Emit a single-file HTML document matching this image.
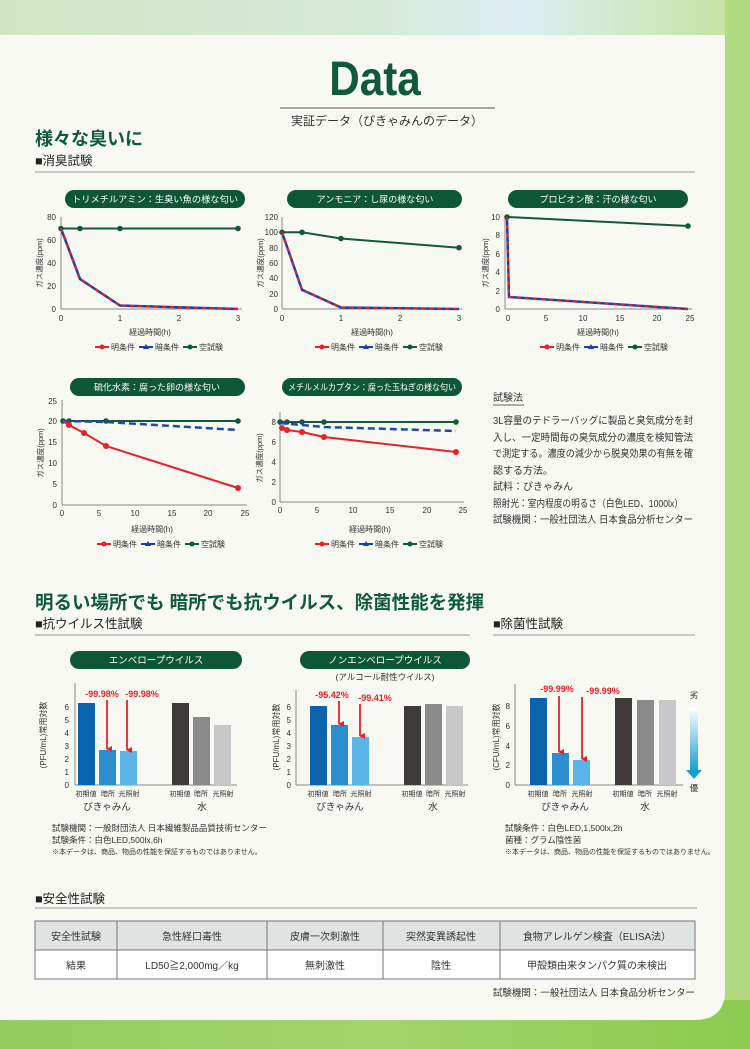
<!DOCTYPE html>
<html><head><meta charset="utf-8"><style>
html,body{margin:0;padding:0;width:750px;height:1049px;overflow:hidden;}
svg{display:block;font-family:"Liberation Sans","Noto Sans CJK JP",sans-serif;}
</style></head><body>
<svg width="750" height="1049" viewBox="0 0 750 1049" xmlns="http://www.w3.org/2000/svg">
<defs>
<linearGradient id="top" x1="0" x2="1" y1="0" y2="0"><stop offset="0" stop-color="#cfe5c2"/><stop offset="0.5" stop-color="#d6ead9"/><stop offset="0.7" stop-color="#dcedf2"/><stop offset="1" stop-color="#c4e29a"/></linearGradient>
<linearGradient id="bot" x1="0" x2="1"><stop offset="0" stop-color="#93cc5e"/><stop offset="0.5" stop-color="#a3d46c"/><stop offset="1" stop-color="#8ccb4f"/></linearGradient>
<linearGradient id="arr" x1="0" x2="0" y1="0" y2="1"><stop offset="0" stop-color="#ffffff"/><stop offset="1" stop-color="#1aa0d0"/></linearGradient>
<marker id="ah" markerWidth="6" markerHeight="6" refX="3" refY="5" orient="auto" markerUnits="userSpaceOnUse"><path d="M0,0 L6,0 L3,6 z" fill="#e8202a"/></marker>
</defs>
<rect width="750" height="1049" fill="url(#top)"/>
<rect x="725" y="0" width="25" height="1049" fill="#b3dc82"/>
<rect x="0" y="1000" width="750" height="49" fill="url(#bot)"/>
<path d="M0,35 H725 V990 Q725,1020 695,1020 H0 Z" fill="#f7f9f2"/>

<text x="375" y="95" text-anchor="middle" font-size="48" font-weight="bold" fill="#0f5a3a" transform="translate(375 0) scale(0.88 1) translate(-375 0)">Data</text>
<line x1="280" y1="108" x2="495" y2="108" stroke="#555" stroke-width="1"/>
<text x="387" y="125" text-anchor="middle" font-size="12" fill="#333">実証データ（ぴきゃみんのデータ）</text>

<text x="35" y="145" font-size="18" font-weight="bold" fill="#0f5a3a">様々な臭いに</text>
<text x="35" y="165" font-size="12.5" fill="#222">■消臭試験</text>
<line x1="35" y1="172" x2="695" y2="172" stroke="#999" stroke-width="1"/>

<g font-size="8" fill="#333">
<rect x="65" y="190" width="180" height="18" rx="9" fill="#0e5638"/>
<text x="155" y="202.5" text-anchor="middle" font-size="9" fill="#fff" textLength="166" lengthAdjust="spacingAndGlyphs">トリメチルアミン：生臭い魚の様な匂い</text>
<line x1="61" y1="217" x2="61" y2="309" stroke="#888"/><line x1="61" y1="309" x2="242" y2="309" stroke="#888"/>
<g text-anchor="end"><text x="56" y="220">80</text><text x="56" y="243">60</text><text x="56" y="266">40</text><text x="56" y="289">20</text><text x="56" y="312">0</text></g>
<g text-anchor="middle"><text x="61" y="321">0</text><text x="120" y="321">1</text><text x="179" y="321">2</text><text x="238" y="321">3</text>
<text x="150" y="335">経過時間(h)</text></g>
<text transform="translate(42 263) rotate(-90)" text-anchor="middle" font-size="7.5">ガス濃度(ppm)</text>
<polyline points="61,228.5 80,228.5 120,228.5 238,228.5" fill="none" stroke="#0f5a3a" stroke-width="2"/>
<g fill="#0f5a3a"><circle cx="61" cy="228.5" r="2.8"/><circle cx="80" cy="228.5" r="2.8"/><circle cx="120" cy="228.5" r="2.8"/><circle cx="238" cy="228.5" r="2.8"/></g>
<polyline points="61,228.5 80,279 120,305.5 238,309" fill="none" stroke="#1f3fa0" stroke-width="2.5"/>
<polyline points="61,228.5 80,279 120,305.5 238,309" fill="none" stroke="#e8202a" stroke-width="2" stroke-dasharray="4 4"/>

<rect x="287" y="190" width="175" height="18" rx="9" fill="#0e5638"/>
<text x="375" y="202.5" text-anchor="middle" font-size="9" fill="#fff">アンモニア：し尿の様な匂い</text>
<line x1="282" y1="217" x2="282" y2="309" stroke="#888"/><line x1="282" y1="309" x2="462" y2="309" stroke="#888"/>
<g text-anchor="end"><text x="278" y="220">120</text><text x="278" y="235">100</text><text x="278" y="251">80</text><text x="278" y="266">60</text><text x="278" y="281">40</text><text x="278" y="297">20</text><text x="278" y="312">0</text></g>
<g text-anchor="middle"><text x="282" y="321">0</text><text x="341" y="321">1</text><text x="400" y="321">2</text><text x="459" y="321">3</text>
<text x="372" y="335">経過時間(h)</text></g>
<text transform="translate(263 263) rotate(-90)" text-anchor="middle" font-size="7.5">ガス濃度(ppm)</text>
<polyline points="282,232.3 302,232.3 341,238.5 459,247.7" fill="none" stroke="#0f5a3a" stroke-width="2"/>
<g fill="#0f5a3a"><circle cx="282" cy="232.3" r="2.8"/><circle cx="302" cy="232.3" r="2.8"/><circle cx="341" cy="238.5" r="2.8"/><circle cx="459" cy="247.7" r="2.8"/></g>
<polyline points="282,232.3 302,289.8 341,307.5 459,309" fill="none" stroke="#1f3fa0" stroke-width="2.5"/>
<polyline points="282,232.3 302,289.8 341,307.5 459,309" fill="none" stroke="#e8202a" stroke-width="2" stroke-dasharray="4 4"/>

<rect x="508" y="190" width="180" height="18" rx="9" fill="#0e5638"/>
<text x="598" y="202.5" text-anchor="middle" font-size="9" fill="#fff">プロピオン酸：汗の様な匂い</text>
<line x1="505" y1="217" x2="505" y2="309" stroke="#888"/><line x1="505" y1="309" x2="692" y2="309" stroke="#888"/>
<g text-anchor="end"><text x="500" y="220">10</text><text x="500" y="238">8</text><text x="500" y="257">6</text><text x="500" y="275">4</text><text x="500" y="294">2</text><text x="500" y="312">0</text></g>
<g text-anchor="middle"><text x="508" y="321">0</text><text x="546" y="321">5</text><text x="583" y="321">10</text><text x="620" y="321">15</text><text x="657" y="321">20</text><text x="690" y="321">25</text>
<text x="598" y="335">経過時間(h)</text></g>
<text transform="translate(488 263) rotate(-90)" text-anchor="middle" font-size="7.5">ガス濃度(ppm)</text>
<polyline points="507,217 688,226" fill="none" stroke="#0f5a3a" stroke-width="2"/>
<g fill="#0f5a3a"><circle cx="507" cy="217" r="2.8"/><circle cx="688" cy="226" r="2.8"/></g>
<polyline points="507,217 509,297 688,309" fill="none" stroke="#1f3fa0" stroke-width="2.5"/>
<polyline points="507,217 509,297 688,309" fill="none" stroke="#e8202a" stroke-width="2" stroke-dasharray="4 4"/>

<rect x="70" y="378" width="175" height="18" rx="9" fill="#0e5638"/>
<text x="157" y="390.5" text-anchor="middle" font-size="9" fill="#fff">硫化水素：腐った卵の様な匂い</text>
<line x1="62" y1="400" x2="62" y2="505" stroke="#888"/><line x1="62" y1="505" x2="247" y2="505" stroke="#888"/>
<g text-anchor="end"><text x="57" y="404">25</text><text x="57" y="424">20</text><text x="57" y="445">15</text><text x="57" y="466">10</text><text x="57" y="487">5</text><text x="57" y="508">0</text></g>
<g text-anchor="middle"><text x="62" y="516">0</text><text x="99" y="516">5</text><text x="135" y="516">10</text><text x="172" y="516">15</text><text x="208" y="516">20</text><text x="245" y="516">25</text>
<text x="152" y="532">経過時間(h)</text></g>
<text transform="translate(43 453) rotate(-90)" text-anchor="middle" font-size="7.5">ガス濃度(ppm)</text>
<polyline points="63,421 69,421 84,421 106,421 238,421" fill="none" stroke="#0f5a3a" stroke-width="2"/>
<g fill="#0f5a3a"><circle cx="63" cy="421" r="2.8"/><circle cx="69" cy="421" r="2.8"/><circle cx="106" cy="421" r="2.8"/><circle cx="238" cy="421" r="2.8"/></g>
<polyline points="63,421 106,422 238,430" fill="none" stroke="#1f4aa8" stroke-width="2.5" stroke-dasharray="7 4"/>
<polyline points="63,421 69,425 84,433 106,446 238,488" fill="none" stroke="#e8202a" stroke-width="2"/>
<g fill="#e8202a"><circle cx="69" cy="425" r="3"/><circle cx="84" cy="433" r="3"/><circle cx="106" cy="446" r="3"/><circle cx="238" cy="488" r="3"/></g>

<rect x="282" y="378" width="180" height="18" rx="9" fill="#0e5638"/>
<text x="372" y="390.5" text-anchor="middle" font-size="9" fill="#fff" textLength="168" lengthAdjust="spacingAndGlyphs">メチルメルカプタン：腐った玉ねぎの様な匂い</text>
<line x1="280" y1="412" x2="280" y2="502" stroke="#888"/><line x1="280" y1="502" x2="464" y2="502" stroke="#888"/>
<g text-anchor="end"><text x="276" y="425">8</text><text x="276" y="445">6</text><text x="276" y="465">4</text><text x="276" y="485">2</text><text x="276" y="505">0</text></g>
<g text-anchor="middle"><text x="280" y="513">0</text><text x="317" y="513">5</text><text x="353" y="513">10</text><text x="390" y="513">15</text><text x="427" y="513">20</text><text x="463" y="513">25</text>
<text x="370" y="532">経過時間(h)</text></g>
<text transform="translate(262 458) rotate(-90)" text-anchor="middle" font-size="7.5">ガス濃度(ppm)</text>
<polyline points="280,422 288,422 302,422 324,422 456,422" fill="none" stroke="#0f5a3a" stroke-width="2"/>
<g fill="#0f5a3a"><circle cx="280" cy="422" r="2.8"/><circle cx="287" cy="422" r="2.8"/><circle cx="302" cy="422" r="2.8"/><circle cx="324" cy="422" r="2.8"/></g>
<polyline points="280,423 302,425 324,427 456,431" fill="none" stroke="#1f4aa8" stroke-width="2.5" stroke-dasharray="7 4"/>
<polyline points="282,428 287,430 302,432 324,437 456,452" fill="none" stroke="#e8202a" stroke-width="2"/>
<g fill="#e8202a"><circle cx="282" cy="428" r="3"/><circle cx="287" cy="430" r="3"/><circle cx="302" cy="432" r="3"/><circle cx="324" cy="437" r="3"/><circle cx="456" cy="452" r="3"/></g>
<circle cx="456" cy="422" r="2.8" fill="#0f5a3a"/>
</g>

<g font-size="8" fill="#333">
<g transform="translate(95 350)"><line x1="0" y1="-3" x2="14" y2="-3" stroke="#e8202a" stroke-width="2"/><circle cx="7" cy="-3" r="2.5" fill="#e8202a"/><text x="16" y="0">明条件</text>
<line x1="44" y1="-3" x2="58" y2="-3" stroke="#1f3fa0" stroke-width="2"/><path d="M51,-6 L54,-1 L48,-1Z" fill="#1f3fa0"/><text x="60" y="0">暗条件</text>
<line x1="88" y1="-3" x2="102" y2="-3" stroke="#0f5a3a" stroke-width="2"/><circle cx="95" cy="-3" r="2.5" fill="#0f5a3a"/><text x="104" y="0">空試験</text></g>
<g transform="translate(315 350)"><line x1="0" y1="-3" x2="14" y2="-3" stroke="#e8202a" stroke-width="2"/><circle cx="7" cy="-3" r="2.5" fill="#e8202a"/><text x="16" y="0">明条件</text>
<line x1="44" y1="-3" x2="58" y2="-3" stroke="#1f3fa0" stroke-width="2"/><path d="M51,-6 L54,-1 L48,-1Z" fill="#1f3fa0"/><text x="60" y="0">暗条件</text>
<line x1="88" y1="-3" x2="102" y2="-3" stroke="#0f5a3a" stroke-width="2"/><circle cx="95" cy="-3" r="2.5" fill="#0f5a3a"/><text x="104" y="0">空試験</text></g>
<g transform="translate(540 350)"><line x1="0" y1="-3" x2="14" y2="-3" stroke="#e8202a" stroke-width="2"/><circle cx="7" cy="-3" r="2.5" fill="#e8202a"/><text x="16" y="0">明条件</text>
<line x1="44" y1="-3" x2="58" y2="-3" stroke="#1f3fa0" stroke-width="2"/><path d="M51,-6 L54,-1 L48,-1Z" fill="#1f3fa0"/><text x="60" y="0">暗条件</text>
<line x1="88" y1="-3" x2="102" y2="-3" stroke="#0f5a3a" stroke-width="2"/><circle cx="95" cy="-3" r="2.5" fill="#0f5a3a"/><text x="104" y="0">空試験</text></g>
<g transform="translate(97 547)"><line x1="0" y1="-3" x2="14" y2="-3" stroke="#e8202a" stroke-width="2"/><circle cx="7" cy="-3" r="2.5" fill="#e8202a"/><text x="16" y="0">明条件</text>
<line x1="44" y1="-3" x2="58" y2="-3" stroke="#1f3fa0" stroke-width="2"/><path d="M51,-6 L54,-1 L48,-1Z" fill="#1f3fa0"/><text x="60" y="0">暗条件</text>
<line x1="88" y1="-3" x2="102" y2="-3" stroke="#0f5a3a" stroke-width="2"/><circle cx="95" cy="-3" r="2.5" fill="#0f5a3a"/><text x="104" y="0">空試験</text></g>
<g transform="translate(315 547)"><line x1="0" y1="-3" x2="14" y2="-3" stroke="#e8202a" stroke-width="2"/><circle cx="7" cy="-3" r="2.5" fill="#e8202a"/><text x="16" y="0">明条件</text>
<line x1="44" y1="-3" x2="58" y2="-3" stroke="#1f3fa0" stroke-width="2"/><path d="M51,-6 L54,-1 L48,-1Z" fill="#1f3fa0"/><text x="60" y="0">暗条件</text>
<line x1="88" y1="-3" x2="102" y2="-3" stroke="#0f5a3a" stroke-width="2"/><circle cx="95" cy="-3" r="2.5" fill="#0f5a3a"/><text x="104" y="0">空試験</text></g>
</g>

<g font-size="10" fill="#333">
<text x="493" y="401">試験法</text><line x1="493" y1="405" x2="524" y2="405" stroke="#333" stroke-width="0.8"/>
<text x="493" y="424" textLength="200" lengthAdjust="spacingAndGlyphs">3L容量のテドラーバッグに製品と臭気成分を封</text>
<text x="493" y="441" textLength="200" lengthAdjust="spacingAndGlyphs">入し、一定時間毎の臭気成分の濃度を検知管法</text>
<text x="493" y="457" textLength="200" lengthAdjust="spacingAndGlyphs">で測定する。濃度の減少から脱臭効果の有無を確</text>
<text x="493" y="474">認する方法。</text>
<text x="493" y="490">試料：ぴきゃみん</text>
<text x="493" y="507" textLength="190" lengthAdjust="spacingAndGlyphs">照射光：室内程度の明るさ（白色LED、1000lx）</text>
<text x="493" y="523" textLength="200" lengthAdjust="spacingAndGlyphs">試験機関：一般社団法人 日本食品分析センター</text>
</g>

<text x="35" y="609" font-size="18.5" font-weight="bold" fill="#0f5a3a">明るい場所でも 暗所でも抗ウイルス、除菌性能を発揮</text>
<text x="35" y="628" font-size="12.5" fill="#222">■抗ウイルス性試験</text>
<line x1="35" y1="635" x2="470" y2="635" stroke="#999"/>
<text x="493" y="628" font-size="12.5" fill="#222">■除菌性試験</text>
<line x1="493" y1="635" x2="695" y2="635" stroke="#999"/>

<g font-size="8" fill="#333">
<rect x="70" y="651" width="172" height="18" rx="9" fill="#0e5638"/>
<text x="156" y="663.5" text-anchor="middle" font-size="9.5" fill="#fff">エンベロープウイルス</text>
<line x1="75" y1="683" x2="75" y2="785" stroke="#888"/><line x1="75" y1="785" x2="237" y2="785" stroke="#888"/>
<g text-anchor="end"><text x="69" y="788">0</text><text x="69" y="775">1</text><text x="69" y="762">2</text><text x="69" y="749">3</text><text x="69" y="736">4</text><text x="69" y="723">5</text><text x="69" y="710">6</text></g>
<text transform="translate(46 735) rotate(-90)" text-anchor="middle" font-size="8">(PFU/mL)常用対数</text>
<rect x="78" y="703" width="17" height="82" fill="#0b62ad"/><rect x="99" y="750" width="17" height="35" fill="#2a8ed0"/><rect x="120" y="751" width="17" height="34" fill="#5ab4e8"/>
<rect x="172" y="703" width="17" height="82" fill="#3e3a3a"/><rect x="193" y="717" width="17" height="68" fill="#8a8a8a"/><rect x="214" y="725" width="17" height="60" fill="#c8c8c8"/>
<g text-anchor="middle" font-size="7"><text x="86" y="796">初期値</text><text x="108" y="796">暗所</text><text x="129" y="796">光照射</text><text x="180" y="796">初期値</text><text x="201" y="796">暗所</text><text x="223" y="796">光照射</text></g>
<g text-anchor="middle" font-size="9.5"><text x="107" y="810">ぴきゃみん</text><text x="202" y="810">水</text></g>
<g fill="#e8202a" font-size="9" font-weight="bold" text-anchor="middle"><text x="102" y="697">-99.98%</text><text x="142" y="697">-99.98%</text></g>
<line x1="107" y1="700" x2="107" y2="749" stroke="#e8202a" stroke-width="1.8" marker-end="url(#ah)"/>
<line x1="127" y1="700" x2="127" y2="750" stroke="#e8202a" stroke-width="1.8" marker-end="url(#ah)"/>

<rect x="300" y="651" width="170" height="18" rx="9" fill="#0e5638"/>
<text x="385" y="663.5" text-anchor="middle" font-size="9.5" fill="#fff">ノンエンベロープウイルス</text>
<text x="385" y="680" text-anchor="middle" font-size="8.5">(アルコール耐性ウイルス)</text>
<line x1="296" y1="690" x2="296" y2="785" stroke="#888"/><line x1="296" y1="785" x2="468" y2="785" stroke="#888"/>
<g text-anchor="end"><text x="291" y="788">0</text><text x="291" y="775">1</text><text x="291" y="762">2</text><text x="291" y="749">3</text><text x="291" y="736">4</text><text x="291" y="723">5</text><text x="291" y="710">6</text></g>
<text transform="translate(279 737) rotate(-90)" text-anchor="middle" font-size="8">(PFU/mL)常用対数</text>
<rect x="310" y="706" width="17" height="79" fill="#0b62ad"/><rect x="331" y="725" width="17" height="60" fill="#2a8ed0"/><rect x="352" y="737" width="17" height="48" fill="#5ab4e8"/>
<rect x="404" y="706" width="17" height="79" fill="#3e3a3a"/><rect x="425" y="704" width="17" height="81" fill="#8a8a8a"/><rect x="446" y="706" width="17" height="79" fill="#c8c8c8"/>
<g text-anchor="middle" font-size="7"><text x="318" y="796">初期値</text><text x="340" y="796">暗所</text><text x="361" y="796">光照射</text><text x="412" y="796">初期値</text><text x="433" y="796">暗所</text><text x="455" y="796">光照射</text></g>
<g text-anchor="middle" font-size="9.5"><text x="340" y="810">ぴきゃみん</text><text x="433" y="810">水</text></g>
<g fill="#e8202a" font-size="9" font-weight="bold" text-anchor="middle"><text x="332" y="698">-95.42%</text><text x="375" y="701">-99.41%</text></g>
<line x1="339" y1="701" x2="339" y2="724" stroke="#e8202a" stroke-width="1.8" marker-end="url(#ah)"/>
<line x1="360" y1="704" x2="360" y2="736" stroke="#e8202a" stroke-width="1.8" marker-end="url(#ah)"/>

<line x1="515" y1="684" x2="515" y2="785" stroke="#888"/><line x1="515" y1="785" x2="683" y2="785" stroke="#888"/>
<g text-anchor="end"><text x="510" y="788">0</text><text x="510" y="768">2</text><text x="510" y="749">4</text><text x="510" y="729">6</text><text x="510" y="709">8</text></g>
<text transform="translate(499 737) rotate(-90)" text-anchor="middle" font-size="8">(CFU/mL)常用対数</text>
<rect x="530" y="698" width="17" height="87" fill="#0b62ad"/><rect x="552" y="753" width="17" height="32" fill="#2a8ed0"/><rect x="573" y="760" width="17" height="25" fill="#5ab4e8"/>
<rect x="615" y="698" width="17" height="87" fill="#3e3a3a"/><rect x="637" y="700" width="17" height="85" fill="#8a8a8a"/><rect x="659" y="700" width="17" height="85" fill="#c8c8c8"/>
<g text-anchor="middle" font-size="7"><text x="538" y="796">初期値</text><text x="560" y="796">暗所</text><text x="582" y="796">光照射</text><text x="623" y="796">初期値</text><text x="645" y="796">暗所</text><text x="667" y="796">光照射</text></g>
<g text-anchor="middle" font-size="9.5"><text x="565" y="810">ぴきゃみん</text><text x="645" y="810">水</text></g>
<g fill="#e8202a" font-size="9" font-weight="bold" text-anchor="middle"><text x="557" y="692">-99.99%</text><text x="603" y="694">-99.99%</text></g>
<line x1="559" y1="696" x2="559" y2="752" stroke="#e8202a" stroke-width="1.8" marker-end="url(#ah)"/>
<line x1="582" y1="697" x2="582" y2="759" stroke="#e8202a" stroke-width="1.8" marker-end="url(#ah)"/>
<rect x="690" y="708" width="8" height="62" fill="url(#arr)"/><path d="M686,770 L702,770 L694,779Z" fill="#1aa0d0"/>
<text x="694" y="698" text-anchor="middle" font-size="8.5">劣</text><text x="694" y="791" text-anchor="middle" font-size="8.5">優</text>
</g>

<g font-size="8.5" fill="#333">
<text x="52" y="831">試験機関：一般財団法人 日本繊維製品品質技術センター</text>
<text x="52" y="843">試験条件：白色LED,500lx,6h</text>
<text x="52" y="854" font-size="7">※本データは、商品、物品の性能を保証するものではありません。</text>
<text x="505" y="831">試験条件：白色LED,1,500lx,2h</text>
<text x="505" y="843">菌種：グラム陰性菌</text>
<text x="505" y="854" font-size="7">※本データは、商品、物品の性能を保証するものではありません。</text>
</g>

<text x="35" y="903" font-size="12.5" fill="#222">■安全性試験</text>
<line x1="35" y1="908" x2="697" y2="908" stroke="#999"/>
<rect x="35" y="921" width="660" height="29" fill="#dfe3e2"/>
<rect x="35" y="950" width="660" height="29" fill="#fff"/>
<g stroke="#777" stroke-width="1" fill="none"><rect x="35" y="921" width="660" height="58"/><line x1="35" y1="950" x2="695" y2="950"/>
<line x1="117" y1="921" x2="117" y2="979"/><line x1="267" y1="921" x2="267" y2="979"/><line x1="383" y1="921" x2="383" y2="979"/><line x1="500" y1="921" x2="500" y2="979"/></g>
<g font-size="10" fill="#333" text-anchor="middle">
<text x="76" y="940">安全性試験</text><text x="192" y="940">急性経口毒性</text><text x="325" y="940">皮膚一次刺激性</text><text x="441" y="940">突然変異誘起性</text><text x="597" y="940">食物アレルゲン検査（ELISA法）</text>
<text x="76" y="969">結果</text><text x="192" y="969">LD50≧2,000mg／kg</text><text x="325" y="969">無刺激性</text><text x="441" y="969">陰性</text><text x="597" y="969">甲殻類由来タンパク質の未検出</text>
</g>
<text x="695" y="996" text-anchor="end" font-size="9.5" fill="#333">試験機関：一般社団法人 日本食品分析センター</text>
</svg>
</body></html>
